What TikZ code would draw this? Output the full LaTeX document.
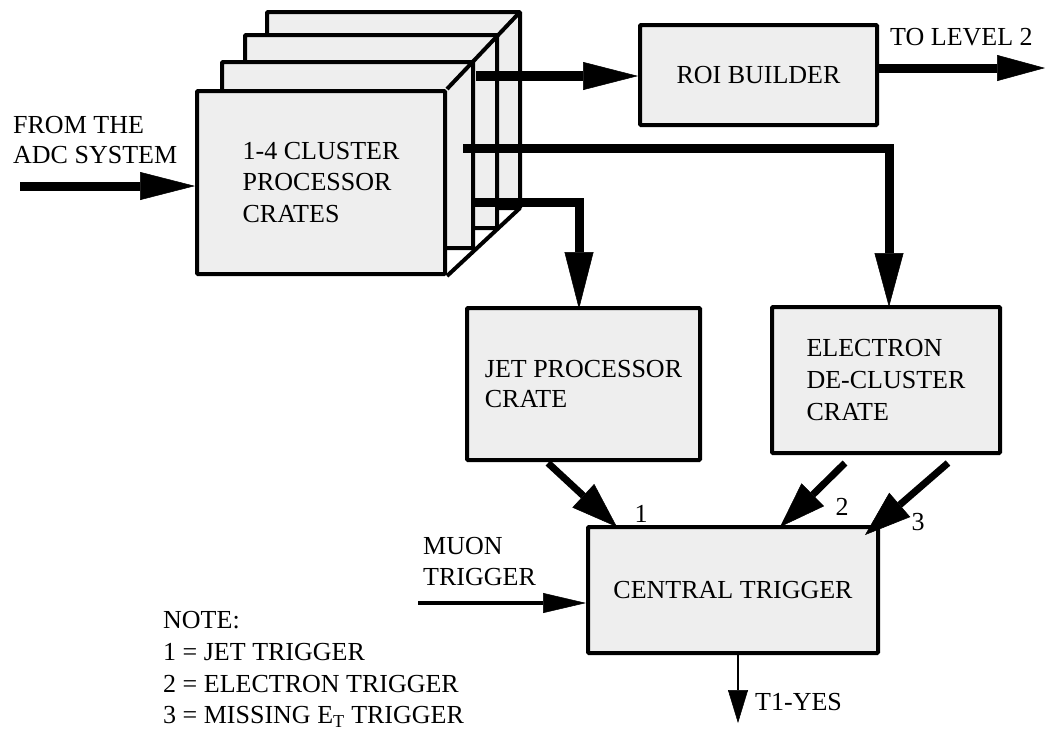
\documentclass[tikz,border=0pt]{standalone}
\usepackage{fontspec}
\setmainfont{Liberation Serif}
\usetikzlibrary{arrows.meta}
\definecolor{boxfill}{HTML}{EEEEEE}
\begin{document}
\begin{tikzpicture}[x=1pt,y=-1pt,
  box/.style={draw=black, line width=4pt, fill=boxfill, rounded corners=1pt, inner sep=0pt,
              font=\fontsize{26}{31.5}\selectfont, align=left},
  cratebox/.style={draw=black, line width=4pt, fill=boxfill, rounded corners=1pt},
  lbl/.style={inner sep=0pt, font=\fontsize{26}{31.5}\selectfont, align=left},
  bigarrow/.style={line width=9pt, line join=miter,
                   -{Triangle[length=55pt,width=28pt,line width=0.5pt]}},
  diagarrow/.style={line width=7pt, -{Triangle[length=46pt,width=32pt,line width=0.5pt]}},
  thinarrow/.style={line width=4pt, -{Triangle[length=43pt,width=20pt,line width=0.5pt]}},
  tinyarrow/.style={line width=1.5pt, -{Triangle[length=33pt,width=20pt,line width=0.5pt]}},
]
\useasboundingbox (0,0) rectangle (1045,732);

% stacked cluster processor crates (back to front)
\draw[cratebox] (267,12) rectangle (520,208);
\draw[cratebox] (245,35) rectangle (497,228);
\draw[cratebox] (222,62) rectangle (473,248);
\node[box, minimum width=248pt, minimum height=183pt] (crates) at (321,182.5)
  {1-4 CLUSTER\\PROCESSOR\\CRATES};
\draw[line width=4pt] (crates.north east) -- (520,12);
\draw[line width=4pt] (crates.south east) -- (520,208);

% other boxes
\node[box, minimum width=237pt, minimum height=100pt] (roi) at (758.5,75) {ROI BUILDER};
\node[box, minimum width=233pt, minimum height=152pt, font=\fontsize{26}{30}\selectfont] (jet) at (583.5,384)
  {JET PROCESSOR\\CRATE};
\node[box, minimum width=228pt, minimum height=146pt, font=\fontsize{26}{32}\selectfont] (elec) at (886,380)
  {ELECTRON\\DE-CLUSTER\\CRATE};
\node[box, minimum width=290pt, minimum height=126pt] (central) at (733,590)
  {CENTRAL TRIGGER};

% free connector ends
\coordinate (adc) at (20,186);
\coordinate (roiin) at (476,76);
\coordinate (lv2) at (1045,68);
\coordinate (longst) at (463,148);
\coordinate (shortst) at (471,202);
\coordinate (j1) at (548,463);
\coordinate (c1) at (617,527);
\coordinate (e2) at (845,463);
\coordinate (c2) at (780,527);
\coordinate (e3) at (948,463);
\coordinate (c3) at (865,535);
\coordinate (mu) at (418,603);
\coordinate (t1) at (738,723);

% connectors
\draw[bigarrow] (adc) -- (adc -| crates.west);
\draw[bigarrow, line width=10pt] (roiin) -- (roiin -| roi.west);
\draw[bigarrow, -{Triangle[length=48pt,width=26pt,line width=0.5pt]}] (lv2 -| roi.east) -- (lv2);
\draw[bigarrow, -{Triangle[length=54pt,width=29pt,line width=0.5pt]}] (longst) -| (889,307);
\draw[bigarrow, -{Triangle[length=57pt,width=29pt,line width=0.5pt]}] (shortst) -| (579,309);
\draw[diagarrow] (j1) -- (c1);
\draw[diagarrow] (e2) -- (c2);
\draw[diagarrow] (e3) -- (c3);
\draw[thinarrow] (mu) -- (mu -| central.west);
\draw[tinyarrow] (t1 |- central.south) -- (t1);

% labels
\node[lbl, anchor=west, font=\fontsize{26}{30}\selectfont] (adclbl) at (13,140) {FROM THE\\ADC SYSTEM};
\node[lbl, anchor=west] (lv2lbl) at (890,37) {TO LEVEL 2};
\node[lbl] (n1) at (641,514) {1};
\node[lbl] (n2) at (842,507) {2};
\node[lbl] (n3) at (918,522) {3};
\node[lbl, anchor=west, font=\fontsize{26}{31}\selectfont] (mulbl) at (423,562) {MUON\\TRIGGER};
\node[lbl, anchor=west] (t1lbl) at (755,702) {T1-YES};
\node[lbl, anchor=north west, font=\fontsize{26}{31.7}\selectfont] (note) at (163,611.4)
  {NOTE:\\1 = JET TRIGGER\\2 = ELECTRON TRIGGER\\3 = MISSING E\textsubscript{T} TRIGGER};
\end{tikzpicture}
\end{document}
